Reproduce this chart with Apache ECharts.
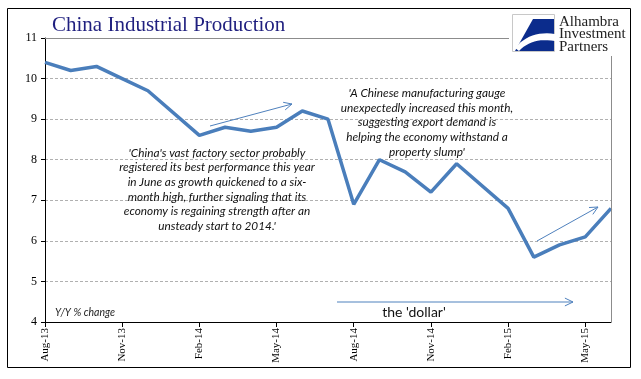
<!DOCTYPE html>
<html>
<head>
<meta charset="utf-8">
<script src="https://cdn.jsdelivr.net/npm/echarts@6/dist/echarts.min.js"></script>
<style>
html,body{margin:0;padding:0;background:#fff;}
#c{width:641px;height:379px;}
</style>
</head>
<body>
<div id="c"></div>
<script>
const categories = ['Aug-13','Sep-13','Oct-13','Nov-13','Dec-13','Jan-14','Feb-14','Mar-14','Apr-14','May-14','Jun-14','Jul-14','Aug-14','Sep-14','Oct-14','Nov-14','Dec-14','Jan-15','Feb-15','Mar-15','Apr-15','May-15','Jun-15'];
const ipValues = [10.4,10.2,10.3,10.0,9.7,null,8.6,8.8,8.7,8.8,9.2,9.0,6.9,8.0,7.7,7.2,7.9,null,6.8,5.6,5.9,6.1,6.8];
const yTicks = [4,5,6,7,8,9,10,11];
const titleText = 'China Industrial Production';
const note1 = ["'China's vast factory sector probably","registered its best performance this year","in June as growth quickened to a six-","month high, further signaling that its","economy is regaining strength after an","unsteady start to 2014.'"];
const note2 = ["'A Chinese manufacturing gauge","unexpectedly increased this month,","suggesting export demand is","helping the economy withstand a","property slump'"];
const logoLines = ['Alhambra','Investment','Partners'];

const chart = echarts.init(document.getElementById('c'), null, {renderer:'canvas'});
const blue = '#4A7EBB';
const arrowColor = '#4F81BD';

function arrow(x1,y1,x2,y2){
  const ang = Math.atan2(y2-y1, x2-x1);
  const L = 9, a = 0.45;
  const p1 = [x2 - L*Math.cos(ang - a), y2 - L*Math.sin(ang - a)];
  const p2 = [x2 - L*Math.cos(ang + a), y2 - L*Math.sin(ang + a)];
  return [
    {type:'line', shape:{x1,y1,x2,y2}, style:{stroke:arrowColor, lineWidth:1}, z:10},
    {type:'polyline', shape:{points:[p1,[x2,y2],p2]}, style:{stroke:arrowColor, lineWidth:1, fill:null}, z:10}
  ];
}
function quad(p0,c,p1,n){
  const pts=[];
  for(let i=0;i<=n;i++){const t=i/n;const u=1-t;
    pts.push([u*u*p0[0]+2*u*t*c[0]+t*t*p1[0], u*u*p0[1]+2*u*t*c[1]+t*t*p1[1]]);}
  return pts;
}
const swoosh = quad([515,48],[530,30],[555,34],12).concat(quad([555,41],[532,37],[519,51],12));

const noteFont = 'italic 11.8px Lato';
const graphics = [
  {type:'rect', shape:{x:7.5,y:8.5,width:623,height:359}, style:{stroke:'#000',lineWidth:1,fill:null}, z:0, silent:true},
  {type:'line', shape:{x1:45,y1:38.5,x2:611,y2:38.5}, style:{stroke:'#8c8c8c',lineWidth:1}, z:5},
  {type:'line', shape:{x1:611.5,y1:38,x2:611.5,y2:322}, style:{stroke:'#8c8c8c',lineWidth:1}, z:5},
  {type:'rect', shape:{x:509,y:12,width:121,height:44}, style:{fill:'#fff'}, z:6},
  {type:'rect', shape:{x:512.5,y:14.5,width:42,height:37}, style:{stroke:'#c8c8c8',lineWidth:1,fill:'#fff'}, z:7},
  {type:'polygon', shape:{points:[[533,19],[554,19],[554,51],[515,51]]}, style:{fill:'#0B2C8C'}, z:8},
  {type:'polygon', shape:{points:swoosh}, style:{fill:'#fff'}, z:9},
  {type:'text', style:{text:titleText, x:52, y:25, font:'21px "Liberation Serif"', fill:'#1F1F7F', verticalAlign:'middle'}, z:10},
  {type:'text', style:{text:'Y/Y % change', x:55, y:313, font:'italic 10.5px Lato', fill:'#222', verticalAlign:'middle'}, z:10},
  {type:'text', style:{text:"the 'dollar'", x:414, y:312, font:'14px Lato', fill:'#111', align:'center', verticalAlign:'middle'}, z:10}
];
note1.forEach((t,i)=>graphics.push({type:'text', style:{text:t, x:217, y:153+i*14.6, font:noteFont, fill:'#111', align:'center', verticalAlign:'middle'}, z:10}));
note2.forEach((t,i)=>graphics.push({type:'text', style:{text:t, x:427, y:93+i*14.8, font:noteFont, fill:'#111', align:'center', verticalAlign:'middle'}, z:10}));
logoLines.forEach((t,i)=>graphics.push({type:'text', style:{text:t, x:559, y:22+i*12.5, font:'15px "Liberation Serif"', fill:'#222', verticalAlign:'middle'}, z:10}));
graphics.push(...arrow(210,126,292,104));
graphics.push(...arrow(537,241,598,207));
graphics.push(...arrow(337,302,573,302));

chart.setOption({
  animation:false,
  backgroundColor:'#fff',
  grid:{left:45,right:30,top:38,bottom:57,containLabel:false},
  xAxis:{
    type:'category', data:categories, boundaryGap:false,
    axisLine:{lineStyle:{color:'#000',width:1}},
    axisTick:{interval:2, length:5, inside:false, lineStyle:{color:'#000'}},
    axisLabel:{interval:2, rotate:90, margin:6, fontFamily:'Liberation Serif', fontSize:11, color:'#000'},
    splitLine:{show:false}
  },
  yAxis:{
    type:'value', min:yTicks[0], max:yTicks[yTicks.length-1], interval:1,
    axisLine:{show:true, lineStyle:{color:'#000',width:1}},
    axisTick:{show:true, length:4, lineStyle:{color:'#000'}},
    axisLabel:{margin:8, fontFamily:'Liberation Serif', fontSize:12, color:'#000'},
    splitLine:{show:true, lineStyle:{color:'#b0b0b0', type:[3,2], width:1}}
  },
  series:[{
    type:'line', data:ipValues, connectNulls:true, symbol:'none',
    lineStyle:{color:blue, width:3.5}, z:3
  }],
  graphic:graphics
});
</script>
</body>
</html>
